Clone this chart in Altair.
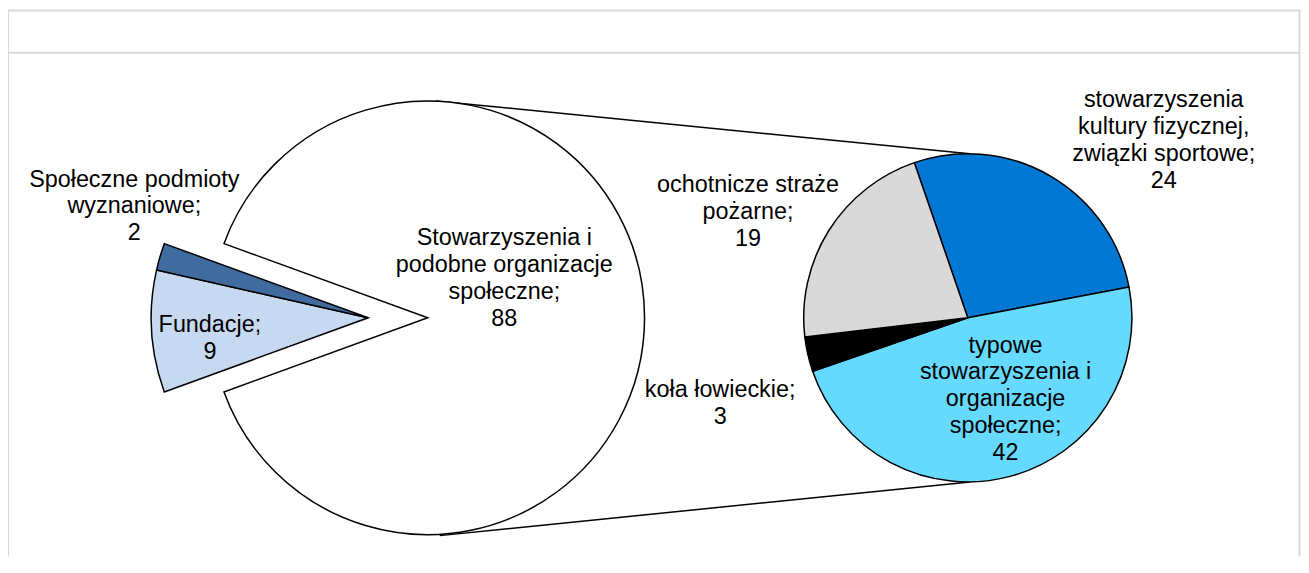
import math
import altair as alt
import pandas as pd

# ---------------- data ----------------
left_cats = ["Stowarzyszenia i podobne organizacje społeczne", "Fundacje", "Społeczne podmioty wyznaniowe"]
left_vals = [88, 9, 2]
left_colors = ["#FFFFFF", "#C6D9F1", "#3F6B9F"]
left_exploded = [0, 1, 1]
left_labels = [
    "Stowarzyszenia i\npodobne organizacje\nspołeczne;",
    "Fundacje;",
    "Społeczne podmioty\nwyznaniowe;",
]

right_cats = [
    "stowarzyszenia kultury fizycznej, związki sportowe",
    "typowe stowarzyszenia i organizacje społeczne",
    "koła łowieckie",
    "ochotnicze straże pożarne",
]
right_vals = [24, 42, 3, 19]
right_colors = ["#0078D4", "#66D9FF", "#000000", "#D9D9D9"]
right_labels = [
    "stowarzyszenia\nkultury fizycznej,\nzwiązki sportowe;",
    "typowe\nstowarzyszenia i\norganizacje\nspołeczne;",
    "koła łowieckie;",
    "ochotnicze straże\npożarne;",
]

# ---------------- layout ----------------
W, H = 1300, 550
L_CX, L_CY, L_R = 422, 310, 218
EXPLODE = 60
R_CX, R_CY, R_R = 965, 310, 165
L_START = math.radians(-70)
R_START = math.radians(-19)
left_label_pos = [(499, 237), (203, 324), (127, 178)]
right_label_pos = [(1162, 98), (1003, 345), (716, 390), (744, 184)]
FONT = "Liberation Sans"
FS = 23.5
LH = 27

left_df = pd.DataFrame({
    "cat": left_cats, "value": left_vals, "idx": list(range(len(left_cats))),
    "exploded": left_exploded,
})
right_df = pd.DataFrame({
    "cat": right_cats, "value": right_vals, "idx": list(range(len(right_cats))),
})

def fmt(lbl, v):
    return f"{lbl}\n{v}"

lab_rows = []
for lbl, v, (x, y) in zip(left_labels, left_vals, left_label_pos):
    lab_rows.append({"label": fmt(lbl, v), "x": x, "y": y})
for lbl, v, (x, y) in zip(right_labels, right_vals, right_label_pos):
    lab_rows.append({"label": fmt(lbl, v), "x": x, "y": y})
labels_df = pd.DataFrame(lab_rows)


def left_pie(cx, show_exploded):
    test = "datum.exploded == 1" if show_exploded else "datum.exploded == 0"
    return alt.Chart(left_df).mark_arc(radius=L_R, stroke="black", strokeWidth=1.5).encode(
        theta=alt.Theta("value:Q", stack=True,
                        scale=alt.Scale(domain=[0, sum(left_vals)], range=[L_START, L_START + 2 * math.pi])),
        order=alt.Order("idx:Q"),
        color=alt.Color("cat:N", scale=alt.Scale(domain=left_cats, range=left_colors), legend=None),
        opacity=alt.condition(test, alt.value(1), alt.value(0)),
        x=alt.value(cx),
        y=alt.value(L_CY),
    )


main_left = left_pie(L_CX, False)
expl_left = left_pie(L_CX - EXPLODE, True)

right_pie = alt.Chart(right_df).mark_arc(radius=R_R, stroke="black", strokeWidth=1.5).encode(
    theta=alt.Theta("value:Q", stack=True,
                    scale=alt.Scale(domain=[0, sum(right_vals)], range=[R_START, R_START + 2 * math.pi])),
    order=alt.Order("idx:Q"),
    color=alt.Color("cat:N", scale=alt.Scale(domain=right_cats, range=right_colors), legend=None),
    x=alt.value(R_CX),
    y=alt.value(R_CY),
)

# connector lines
conn_top = alt.Chart().mark_rule(color="black", strokeWidth=1.5).encode(
    x=alt.value(L_CX + 8), y=alt.value(L_CY - L_R), x2=alt.value(R_CX + 2), y2=alt.value(R_CY - R_R))
conn_bot = alt.Chart().mark_rule(color="black", strokeWidth=1.5).encode(
    x=alt.value(L_CX + 12), y=alt.value(L_CY + L_R + 1), x2=alt.value(R_CX + 2), y2=alt.value(R_CY + R_R))

# frame
FR = "#D9D9D9"
frame = [
    alt.Chart().mark_rule(color=FR, strokeWidth=2).encode(x=alt.value(0), y=alt.value(1), x2=alt.value(W - 1), y2=alt.value(1)),
    alt.Chart().mark_rule(color=FR, strokeWidth=2).encode(x=alt.value(0), y=alt.value(43.5), x2=alt.value(W - 1), y2=alt.value(43.5)),
    alt.Chart().mark_rule(color=FR, strokeWidth=2).encode(x=alt.value(0), y=alt.value(0), x2=alt.value(0), y2=alt.value(H)),
    alt.Chart().mark_rule(color=FR, strokeWidth=2).encode(x=alt.value(W - 1.5), y=alt.value(0), x2=alt.value(W - 1.5), y2=alt.value(H)),
]

labels = alt.Chart(labels_df).mark_text(
    font=FONT, fontSize=FS, lineHeight=LH, align="center", baseline="alphabetic",
    lineBreak="\n", color="black",
).encode(
    x=alt.X("x:Q", scale=None),
    y=alt.Y("y:Q", scale=None),
    text="label:N",
)

chart = alt.layer(
    *frame, conn_top, conn_bot, main_left, expl_left, right_pie, labels
).resolve_scale(
    theta="independent", color="independent", opacity="independent"
).properties(
    width=W, height=H, padding=0, autosize=alt.AutoSizeParams(type="none"),
).configure_view(stroke=None)

chart.save("out.html", embed_options={"renderer": "svg", "actions": False})
